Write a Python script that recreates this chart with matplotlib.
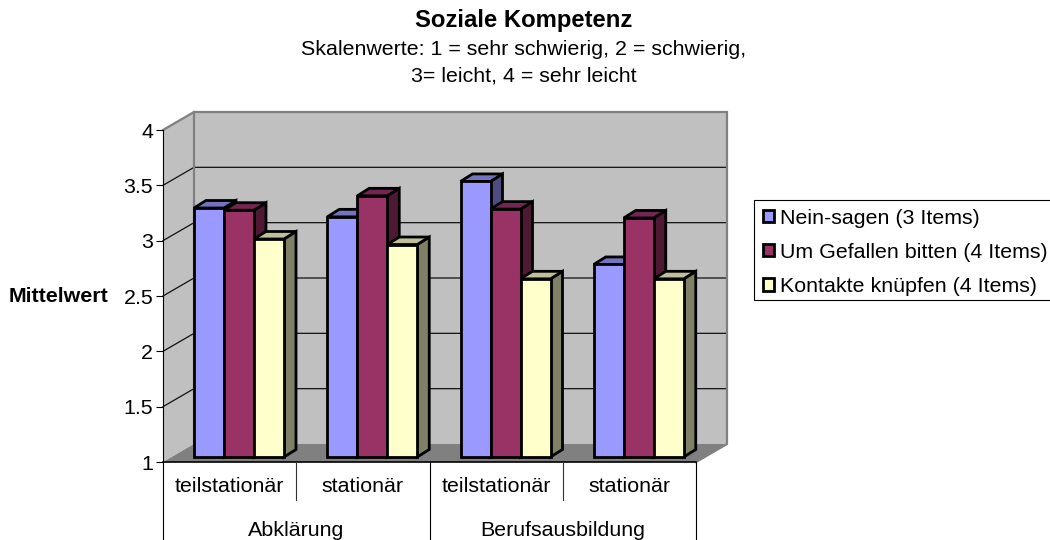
import matplotlib
matplotlib.use("Agg")
import matplotlib.pyplot as plt
from matplotlib.patches import Polygon, Patch, Rectangle

plt.rcParams['font.family'] = ['Liberation Sans', 'DejaVu Sans']

# data
groups = ['Abklärung', 'Berufsausbildung']
categories = ['teilstationär', 'stationär', 'teilstationär', 'stationär']
series_names = ['Nein-sagen (3 Items)', 'Um Gefallen bitten (4 Items)', 'Kontakte knüpfen (4 Items)']
nein_sagen = [3.25, 3.17, 3.49, 2.74]
um_gefallen = [3.23, 3.36, 3.24, 3.16]
kontakte = [2.97, 2.92, 2.61, 2.61]
yticks = [1, 1.5, 2, 2.5, 3, 3.5, 4]
yticklabels = ['1', '1.5', '2', '2.5', '3', '3.5', '4']

front = ['#9999FF', '#993366', '#FFFFCC']
top = ['#7373BF', '#732650', '#BFBF99']
side = ['#4D4D80', '#4D1933', '#808066']

W, H = 1050, 540
FS = 15.4
fig = plt.figure(figsize=(W / 100, H / 100), dpi=100)
ax = fig.add_axes([163 / W, (H - 462) / H, 533 / W, 332 / H])
ax.set_xlim(0, 4)
ax.set_ylim(1, 4)

# pixel sizes turned into data units
ux = 533 / 4
uy = 332 / 3
wall_dx = 31 / ux
wall_dy = 18 / uy
bar_dx = 12 / ux
bar_dy = 7.5 / uy
bar_w = 30 / ux
bar_lift = 5 / uy
bar_base = 1 + bar_lift

ax.patch.set_visible(False)
for s in ['top', 'right', 'bottom']:
    ax.spines[s].set_visible(False)
ax.spines['left'].set_linewidth(0.8)

# walls
ax.add_patch(Polygon([(0, 1), (wall_dx, 1 + wall_dy), (wall_dx, 4 + wall_dy), (0, 4)],
                     fc='#C0C0C0', ec='none', clip_on=False, zorder=0))
ax.add_patch(Polygon([(wall_dx, 1 + wall_dy), (4 + wall_dx, 1 + wall_dy), (4 + wall_dx, 4 + wall_dy), (wall_dx, 4 + wall_dy)],
                     fc='#C0C0C0', ec='none', clip_on=False, zorder=0))
ax.add_patch(Polygon([(0, 1), (wall_dx, 1 + wall_dy), (4 + wall_dx, 1 + wall_dy), (4, 1)],
                     fc='#808080', ec='none', clip_on=False, zorder=0.5))

# gridlines on side and back wall
for v in yticks[1:-1]:
    ax.plot([0, wall_dx, 4 + wall_dx], [v, v + wall_dy, v + wall_dy], color='#111111', lw=0.9,
            clip_on=False, zorder=1)

# grey wall outline
ax.plot([0, wall_dx, 4 + wall_dx, 4 + wall_dx, 4], [4, 4 + wall_dy, 4 + wall_dy, 1 + wall_dy, 1],
        color='#808080', lw=1.6, clip_on=False, zorder=1.5, solid_joinstyle='miter')
ax.plot([wall_dx, wall_dx], [1 + wall_dy, 4 + wall_dy], color='#808080', lw=1.6, clip_on=False, zorder=1.5)

# bars
z = 2
for i, vals in enumerate([nein_sagen, um_gefallen, kontakte]):
    for j, val in enumerate(vals):
        v = val + bar_lift
        x0 = j + wall_dx + i * bar_w
        x1 = x0 + bar_w
        ax.add_patch(Polygon([(x1, bar_base), (x1 + bar_dx, bar_base + bar_dy), (x1 + bar_dx, v + bar_dy), (x1, v)],
                             fc=side[i], ec='black', lw=2, clip_on=False, zorder=z))
        ax.add_patch(Polygon([(x0, v), (x0 + bar_dx, v + bar_dy), (x1 + bar_dx, v + bar_dy), (x1, v)],
                             fc=top[i], ec='black', lw=2, clip_on=False, zorder=z))
        ax.bar(x0, v - bar_base, width=bar_w, bottom=bar_base, align='edge', color=front[i],
               edgecolor='black', linewidth=2, clip_on=False, zorder=z + 0.1)
        z += 0.2

# y axis
ax.set_yticks(yticks)
ax.set_yticklabels(yticklabels, fontsize=FS)
ax.tick_params(axis='y', length=5, width=0.8, pad=2)
ax.set_xticks([])

# two level category axis
ax.plot([0, 4], [1, 1], color='black', lw=1.2, clip_on=False, zorder=1.8)
for k in [0, 2, 4]:
    ax.plot([k, k], [1, 1 - 80 / uy], color='black', lw=0.8, clip_on=False)
for k in [1, 3]:
    ax.plot([k, k], [1, 1 - 38 / uy], color='#333333', lw=0.8, clip_on=False)
for k, c in enumerate(categories):
    ax.text(k + 0.5, 1 - 24.5 / uy, c, ha='center', va='center', fontsize=FS)
for k, g in enumerate(groups):
    ax.text(2 * k + 1, 1 - 68 / uy, g, ha='center', va='center', fontsize=FS)

# texts
fig.text(524 / W, 1 - 20.5 / H, 'Soziale Kompetenz', ha='center', va='center', fontsize=17.2, fontweight='bold')
fig.text(524 / W, 1 - 49.5 / H, 'Skalenwerte: 1 = sehr schwierig, 2 = schwierig,', ha='center', va='center', fontsize=FS)
fig.text(524 / W, 1 - 75.5 / H, '3= leicht, 4 = sehr leicht', ha='center', va='center', fontsize=FS)
fig.text(9 / W, 1 - 297 / H, 'Mittelwert', ha='left', va='center', fontsize=FS, fontweight='bold')

# legend, frame runs off the right edge like in the original
fig.add_artist(Rectangle((754 / W, 1 - 300 / H), 310 / W, 100 / H, transform=fig.transFigure,
                         fc='white', ec='black', lw=0.8))
handles = [Patch(fc=front[i], ec='black', lw=2) for i in range(3)]
leg = fig.legend(handles, series_names, loc='upper left', bbox_to_anchor=(753.5 / W, 1 - 199 / H),
                 borderaxespad=0, fontsize=FS, frameon=False,
                 handlelength=0.5, handleheight=0.5, handletextpad=0.3, labelspacing=0.71, borderpad=0.45)

fig.savefig('out.png', dpi=100)
